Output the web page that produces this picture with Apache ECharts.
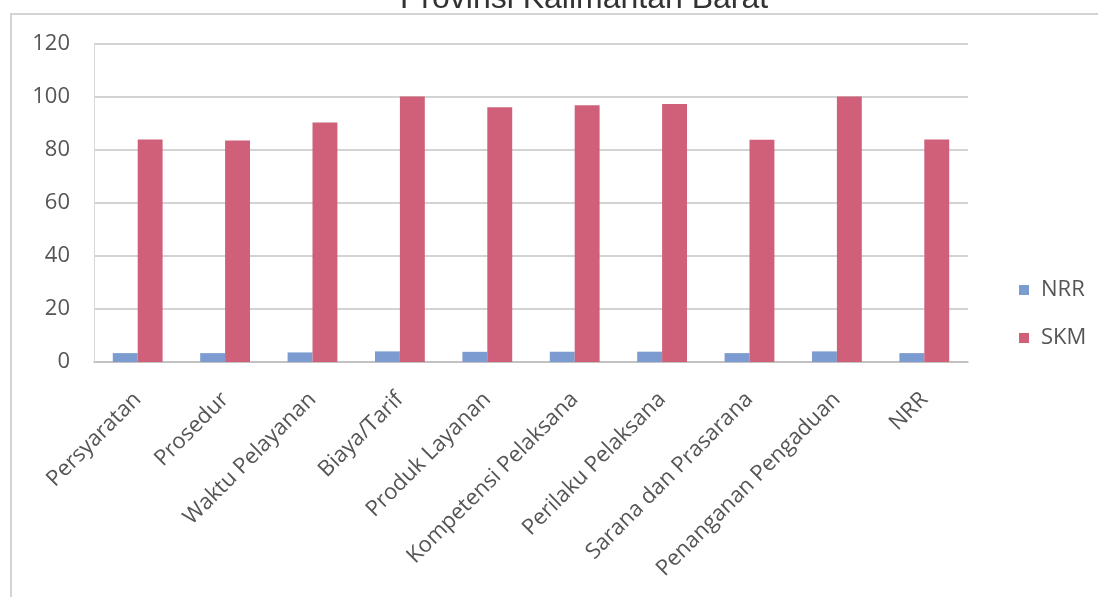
<!DOCTYPE html>
<html>
<head>
<meta charset="utf-8">
<script src="https://cdn.jsdelivr.net/npm/echarts@6/dist/echarts.min.js"></script>
<style>
  html, body { margin: 0; padding: 0; background: #ffffff; }
  #chart { width: 1098px; height: 597px; }
</style>
</head>
<body>
<div id="chart"></div>
<script>
// Survey aspects (categories on the x axis)
const categories = [
  'Persyaratan', 'Prosedur', 'Waktu Pelayanan', 'Biaya/Tarif', 'Produk Layanan',
  'Kompetensi Pelaksana', 'Perilaku Pelaksana', 'Sarana dan Prasarana',
  'Penanganan Pengaduan', 'NRR'
];
// Average score per aspect (NRR) and the converted satisfaction index (SKM)
const nrrValues = [3.35, 3.34, 3.61, 4.00, 3.84, 3.87, 3.89, 3.35, 4.00, 3.35];
const skmValues = [83.8, 83.5, 90.2, 100.0, 96.0, 96.7, 97.2, 83.7, 100.0, 83.8];
const seriesNames = ['NRR', 'SKM'];
const titleText = 'Provinsi Kalimantan Barat';

const chart = echarts.init(document.getElementById('chart'), null, { renderer: 'canvas' });

const labelFont = '"Open Sans", "DejaVu Sans", sans-serif';

chart.setOption({
  animation: false,
  backgroundColor: '#ffffff',
  title: {
    text: titleText,
    left: 395,
    top: -22,
    textStyle: {
      fontFamily: '"Liberation Sans", Arial, sans-serif',
      fontSize: 32,
      fontWeight: 'normal',
      color: '#333333'
    }
  },
  graphic: [{
    type: 'rect',
    silent: true,
    z: -10,
    shape: { x: 11, y: 14, width: 1200, height: 700 },
    style: { fill: 'none', stroke: '#d4d4d4', lineWidth: 2 }
  }],
  legend: {
    orient: 'vertical',
    left: 1014,
    top: 274,
    itemWidth: 10,
    itemHeight: 10,
    itemGap: 26,
    icon: 'rect',
    textStyle: { fontFamily: labelFont, fontSize: 22, color: '#555555', padding: [0, 0, 0, 7] },
    data: seriesNames
  },
  grid: {
    left: 94,
    right: 130,
    top: 43.5,
    bottom: 235,
    containLabel: false
  },
  xAxis: {
    type: 'category',
    data: categories,
    axisLine: { show: true, lineStyle: { color: '#bdbdbd', width: 1.5 } },
    axisTick: { show: false },
    axisLabel: {
      rotate: 45,
      interval: 0,
      margin: 34,
      fontFamily: labelFont,
      fontSize: 22,
      color: '#555555'
    }
  },
  yAxis: {
    type: 'value',
    min: 0,
    max: 120,
    interval: 20,
    axisLine: { show: true, lineStyle: { color: '#d8d8d8', width: 1 } },
    axisTick: { show: false },
    splitLine: { show: true, lineStyle: { color: '#c4c4c4', width: 1.5 } },
    axisLabel: {
      margin: 24,
      fontFamily: labelFont,
      fontSize: 22,
      color: '#555555'
    }
  },
  series: [
    {
      name: seriesNames[0],
      type: 'bar',
      data: nrrValues,
      barGap: '0%',
      barCategoryGap: '43%',
      itemStyle: { color: '#7c9bd0' }
    },
    {
      name: seriesNames[1],
      type: 'bar',
      data: skmValues,
      barGap: '0%',
      barCategoryGap: '43%',
      itemStyle: { color: '#d0607a' }
    }
  ]
});
</script>
</body>
</html>
